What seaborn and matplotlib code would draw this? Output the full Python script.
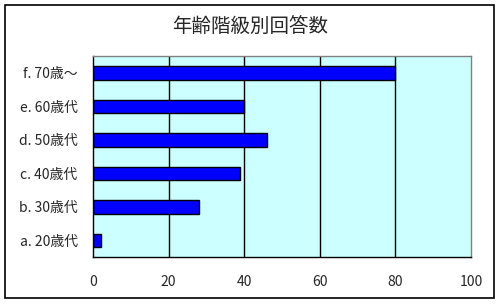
import matplotlib
matplotlib.use("Agg")
import matplotlib.pyplot as plt
import seaborn as sns
import pandas as pd
from matplotlib.patches import Rectangle

categories = ["f. 70歳〜", "e. 60歳代", "d. 50歳代", "c. 40歳代", "b. 30歳代", "a. 20歳代"]
values = [80, 40, 46, 39, 28, 2]
xticks = [0, 20, 40, 60, 80, 100]
title = "年齢階級別回答数"

sns.set_style("white")
plt.rcParams['font.family'] = ['Noto Sans CJK JP', 'DejaVu Sans']

df = pd.DataFrame({"cat": categories, "val": values})

fig = plt.figure(figsize=(5, 3.05), dpi=100)
ax = fig.add_axes([0.186, 0.157, 0.756, 0.659])
ax.set_facecolor("#CCFFFF")
sns.barplot(data=df, x="val", y="cat", order=categories, color="#0000FF",
            edgecolor="black", linewidth=1, width=0.4, saturation=1, ax=ax)
ax.set_xlim(0, 100)
ax.set_ylim(len(categories) - 0.5, -0.5)
ax.set_xticks(xticks)
ax.set_xticklabels([str(v) for v in xticks], fontsize=10)
ax.set_xlabel("")
ax.set_ylabel("")
ax.tick_params(axis="x", length=0, pad=13)
ax.tick_params(axis="y", which="major", length=0, pad=11, labelsize=10)
ax.set_yticks([i + 0.5 for i in range(len(categories) - 1)], minor=True)
ax.tick_params(axis="y", which="minor", length=4, direction="in", color="black", width=1)
for v in xticks[1:-1]:
    ax.axvline(v, color="black", linewidth=1, zorder=0.5)
ax.set_axisbelow(True)
for s in ["left", "bottom"]:
    ax.spines[s].set_color("black")
    ax.spines[s].set_linewidth(1)
for s in ["top", "right"]:
    ax.spines[s].set_color("#808080")
    ax.spines[s].set_linewidth(1)
    ax.spines[s].set_visible(True)

fig.text(0.5, 0.91, title, ha="center", va="center", fontsize=14)
fig.patches.append(Rectangle((5/500, 1 - 298/305), 489/500, 293/305,
                             transform=fig.transFigure, fill=False,
                             edgecolor="black", linewidth=1.2))
fig.savefig("out.png", dpi=100)
